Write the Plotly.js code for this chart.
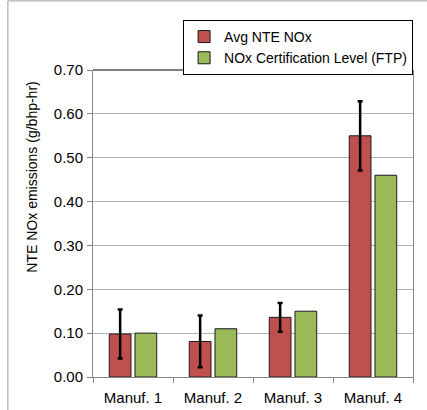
<!DOCTYPE html>
<html>
<head>
<meta charset="utf-8">
<script src="https://cdn.plot.ly/plotly-3.0.1.min.js"></script>
<style>
html,body{margin:0;padding:0;background:#fff;}
#chart{width:427px;height:410px;}
</style>
</head>
<body>
<div id="chart"></div>
<script>
var categories = ["Manuf. 1", "Manuf. 2", "Manuf. 3", "Manuf. 4"];
var avgNte = [0.098, 0.081, 0.136, 0.55];
var avgNteErr = [0.056, 0.059, 0.033, 0.079];
var certLevel = [0.10, 0.11, 0.15, 0.46];
var yTickVals = [0, 0.1, 0.2, 0.3, 0.4, 0.5, 0.6, 0.7];
var yTickText = ["0.00", "0.10", "0.20", "0.30", "0.40", "0.50", "0.60", "0.70"];
var yTitle = "NTE NOx emissions (g/bhp-hr)";

var fontFam = "Liberation Sans, Arial, sans-serif";

var traces = [
  {
    type: "bar",
    name: "Avg NTE NOx",
    x: categories,
    y: avgNte,
    marker: {color: "#C0504D", line: {color: "#1a1a1a", width: 1}},
    error_y: {type: "data", array: avgNteErr, visible: true, color: "#000", thickness: 2.5, width: 2.5}
  },
  {
    type: "bar",
    name: "NOx Certification Level (FTP)",
    x: categories,
    y: certLevel,
    marker: {color: "#9BBB59", line: {color: "#1a1a1a", width: 1}}
  }
];

var layout = {
  width: 427,
  height: 410,
  margin: {l: 93, r: 14, t: 70, b: 33, pad: 0},
  paper_bgcolor: "#fff",
  plot_bgcolor: "#fff",
  font: {family: fontFam, size: 15, color: "#000"},
  barmode: "group",
  bargap: 0.357,
  bargroupgap: 0.156,
  showlegend: true,
  legend: {
    x: 0.2815, y: 1.163, xanchor: "left", yanchor: "top",
    bgcolor: "#fff", bordercolor: "#000", borderwidth: 1,
    font: {family: fontFam, size: 14, color: "#000"},
    tracegroupgap: 2, itemwidth: 30
  },
  xaxis: {
    type: "category",
    showgrid: false,
    showline: true, linecolor: "#868686", linewidth: 1,
    ticks: "outside", tickson: "boundaries", ticklen: 5, tickcolor: "#868686",
    ticklabelstandoff: 7,
    tickfont: {family: fontFam, size: 15, color: "#000"},
    fixedrange: true
  },
  yaxis: {
    range: [0, 0.7],
    tickvals: yTickVals,
    ticktext: yTickText,
    showgrid: true, gridcolor: "#b3b3b3", gridwidth: 1,
    zeroline: false,
    showline: true, linecolor: "#868686", linewidth: 1, mirror: true,
    ticks: "outside", ticklen: 5, tickcolor: "#868686",
    ticklabelstandoff: 1,
    tickfont: {family: fontFam, size: 15, color: "#000"},
    fixedrange: true
  },
  annotations: [
    {text: yTitle, xref: "paper", yref: "paper", x: -0.19, y: 0.65, textangle: -90,
     showarrow: false, xanchor: "center", yanchor: "middle",
     font: {family: fontFam, size: 14, color: "#000"}}
  ],
  shapes: [
    {type: "line", xref: "paper", yref: "paper", x0: 0, x1: 1, y0: 1, y1: 1, line: {color: "#000", width: 1}},
    {type: "line", xref: "paper", yref: "paper", x0: -0.266, x1: -0.266, y0: -0.2, y1: 1.225, line: {color: "#9a9a9a", width: 1}},
    {type: "line", xref: "paper", yref: "paper", x0: -0.266, x1: 1.1, y0: 1.225, y1: 1.225, line: {color: "#9a9a9a", width: 1}}
  ]
};

Plotly.newPlot("chart", traces, layout, {displayModeBar: false, staticPlot: true});
</script>
</body>
</html>
